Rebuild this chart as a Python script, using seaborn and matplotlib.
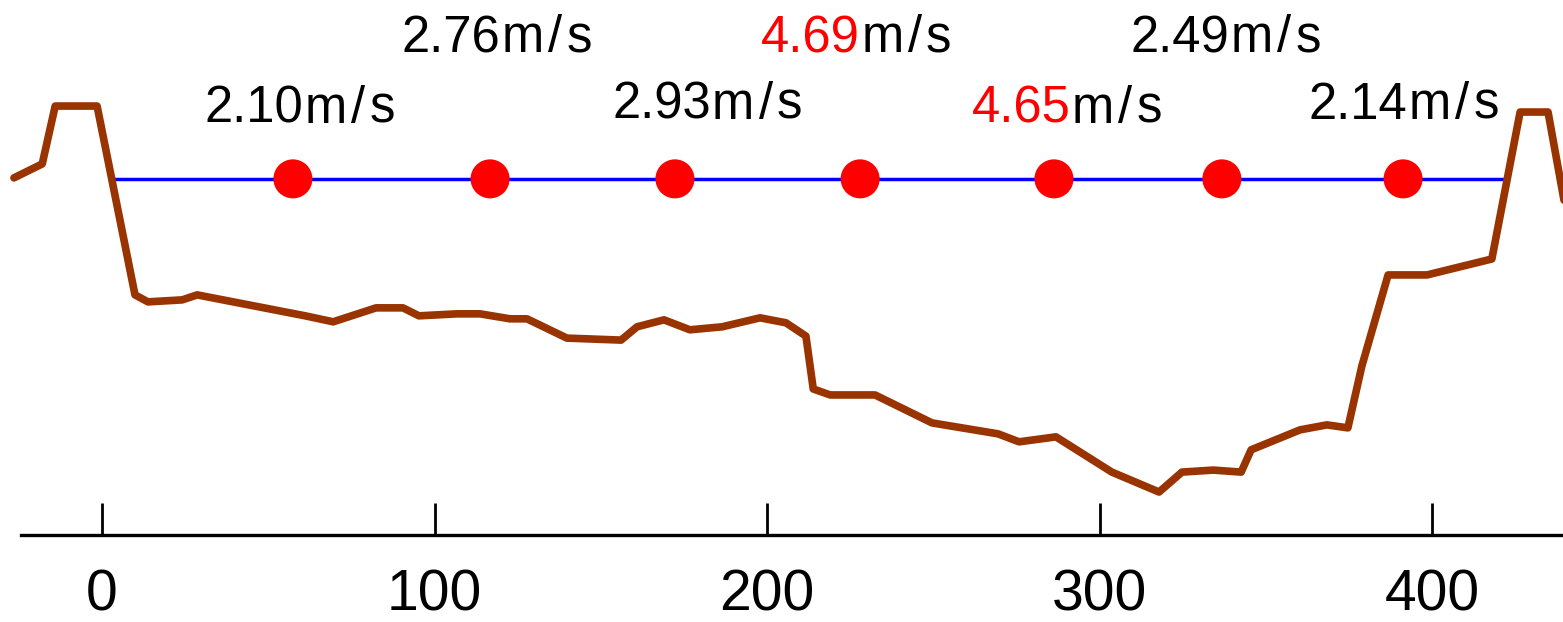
import numpy as np
import pandas as pd
import seaborn as sns
import matplotlib
matplotlib.use('Agg')
import matplotlib.pyplot as plt
from matplotlib.offsetbox import TextArea, HPacker, AnnotationBbox

# 河床断面 (起点距 m, 高程 m)
bed_x = [-26.5, -18.0, -14.1, -1.5, 9.9, 13.8, 24.1, 28.6, 61.1, 69.5, 82.4, 90.5,
         95.3, 106.8, 113.7, 122.7, 127.8, 139.8, 156.1, 160.9, 169.0, 176.8, 186.5,
         197.9, 205.7, 211.7, 213.9, 219.0, 232.5, 249.6, 269.5, 275.8, 286.9, 303.7,
         317.9, 324.8, 334.2, 342.6, 345.6, 360.3, 368.4, 374.7, 378.9, 386.8, 398.5,
         418.0, 426.5, 434.9, 442.0]
bed_z = [10.74, 11.16, 12.90, 12.90, 7.22, 7.01, 7.07, 7.22, 6.59, 6.41, 6.83, 6.83,
         6.59, 6.65, 6.65, 6.50, 6.50, 5.92, 5.86, 6.26, 6.47, 6.17, 6.26,
         6.53, 6.38, 5.98, 4.39, 4.21, 4.21, 3.37, 3.04, 2.80, 2.95, 1.89,
         1.29, 1.89, 1.95, 1.89, 2.56, 3.16, 3.31, 3.22, 5.08, 7.82, 7.82,
         8.30, 12.72, 12.72, 8.80]

# 水面线
water_x = [2.4, 421.4]
water_z = [10.71, 10.71]

# 测点及流速
pt_x = [57.4, 116.7, 172.3, 228.0, 286.3, 336.8, 391.3]
speed = ['2.10', '2.76', '2.93', '4.69', '4.65', '2.49', '2.14']
highlight = [False, False, False, True, True, False, False]

# 标注位置
label_x = [59.5, 118.8, 182.0, 226.8, 290.2, 338.0, 391.6]
label_z = [12.80, 14.92, 12.92, 14.92, 12.80, 14.92, 12.92]

sns.set_style('white')
plt.rcParams['font.family'] = ['Liberation Sans', 'DejaVu Sans']

fig = plt.figure(figsize=(15.63, 6.22), dpi=100)
ax = fig.add_axes([0, 0.14, 1, 0.86])

bed = pd.DataFrame({'x': bed_x, 'z': bed_z})
sns.lineplot(data=bed, x='x', y='z', sort=False, estimator=None, ax=ax,
             color='#993300', linewidth=5.5, zorder=2)
sns.lineplot(x=water_x, y=water_z, sort=False, estimator=None, ax=ax,
             color='#0000FF', linewidth=2.5, zorder=1)
sns.scatterplot(x=pt_x, y=[water_z[0]] * len(pt_x), ax=ax, s=790,
                color='#FF0000', edgecolor='none', zorder=3)

fs = 36.5
for lx, lz, v, hl in zip(label_x, label_z, speed, highlight):
    parts = [TextArea(v, textprops=dict(color='#FF0000' if hl else 'black', fontsize=fs))]
    unit = [TextArea(c, textprops=dict(color='black', fontsize=fs)) for c in ['m', '/', 's']]
    ubox = HPacker(children=unit, sep=3, pad=0, align='baseline')
    box = HPacker(children=parts + [ubox], sep=1, pad=0, align='baseline')
    ab = AnnotationBbox(box, (lx, lz), frameon=False, box_alignment=(0.5, 0.5),
                        pad=0, xycoords='data')
    ax.add_artist(ab)

ax.set_xlim(-30.7, 439.4)
ax.set_ylim(0, 16.09)
ax.set_xticks([0, 100, 200, 300, 400])
ax.set_yticks([])
ax.set_xlabel('')
ax.set_ylabel('')
for s in ['left', 'right', 'top']:
    ax.spines[s].set_visible(False)
ax.spines['bottom'].set_linewidth(2.4)
ax.spines['bottom'].set_color('black')
ax.spines['bottom'].set_bounds(-24.4, 439.4)
ax.tick_params(axis='x', bottom=True, direction='in', length=23, width=2,
               colors='black', labelsize=41, pad=24)
ax.patch.set_alpha(0)

fig.savefig('out.png', dpi=100)
